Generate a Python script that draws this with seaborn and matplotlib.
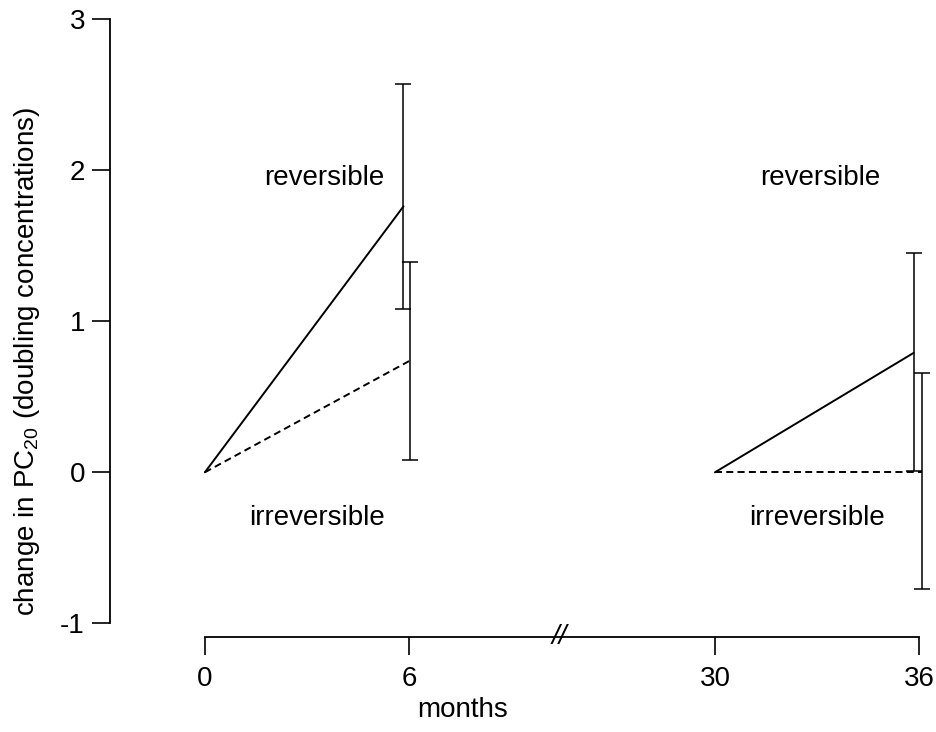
import numpy as np
import pandas as pd
import matplotlib
matplotlib.use("Agg")
import matplotlib.pyplot as plt
import matplotlib.transforms as mtransforms
import seaborn as sns

# ---- data -------------------------------------------------------------
groups = ["reversible", "irreversible"]
periods = ["early", "late"]
start_month = [0, 30]
end_month = [6, 36]
# mean change at end of each period (doubling concentrations)
mean_reversible = [1.76, 0.79]
mean_irreversible = [0.74, 0.0]
# lower / upper ends of the error bars
lo_reversible = [1.08, 0.01]
hi_reversible = [2.57, 1.45]
lo_irreversible = [0.08, -0.77]
hi_irreversible = [1.39, 0.66]

x_ticks = [0, 6, 30, 36]
x_tick_labels = ["0", "6", "30", "36"]
y_ticks = [-1, 0, 1, 2, 3]
y_tick_labels = ["-1", "0", "1", "2", "3"]

# ---- broken time axis: 6..30 months is squeezed into 9 units ----------
GAP = 9.0 / 24.0


def fwd(m):
    m = np.asarray(m, dtype=float)
    return np.where(m <= 6, m, np.where(m >= 30, m - 15.0, 6 + (m - 6) * GAP))


def inv(c):
    c = np.asarray(c, dtype=float)
    return np.where(c <= 6, c, np.where(c >= 15, c + 15.0, 6 + (c - 6) / GAP))


# ---- long-form table for seaborn --------------------------------------
dodge = {"reversible": -0.16, "irreversible": 0.10}
means = {"reversible": mean_reversible, "irreversible": mean_irreversible}
rows = []
for g in groups:
    for i, p in enumerate(periods):
        rows.append(dict(group=g, period=p, month=start_month[i], change=0.0))
        rows.append(dict(group=g, period=p, month=end_month[i] + dodge[g],
                         change=means[g][i]))
df = pd.DataFrame(rows)

# ---- figure -----------------------------------------------------------
sns.set_theme(style="ticks")
plt.rcParams["font.family"] = ["Liberation Sans", "DejaVu Sans"]
plt.rcParams["mathtext.fontset"] = "custom"
plt.rcParams["mathtext.rm"] = "Liberation Sans"
plt.rcParams["text.color"] = "black"
plt.rcParams["axes.labelcolor"] = "black"

W, H = 937, 732
fig = plt.figure(figsize=(W / 100, H / 100), dpi=100)
fig.patch.set_facecolor("white")

left_px, right_px, top_px, bottom_px = 110, 936, 19, 637
ax = fig.add_axes([left_px / W, 1 - bottom_px / H,
                   (right_px - left_px) / W, (bottom_px - top_px) / H])
ax.set_xscale("function", functions=(fwd, inv))

# x limits chosen so that month 0 sits ~95 px right of the y axis
ax.set_xlim(-2.79, 36.5)
ax.set_ylim(-1.09, 3.0)

sns.lineplot(data=df, x="month", y="change", style="group", units="period",
             estimator=None, color="black", linewidth=1.4,
             dashes={"reversible": "", "irreversible": (3.6, 2.2)},
             style_order=groups, legend=False, ax=ax)

# error bars
for g, lo, hi in [("reversible", lo_reversible, hi_reversible),
                  ("irreversible", lo_irreversible, hi_irreversible)]:
    xs = np.array(end_month, dtype=float) + dodge[g]
    m = np.array(means[g])
    yerr = np.vstack([m - np.array(lo), np.array(hi) - m])
    ax.errorbar(xs, m, yerr=yerr, fmt="none", ecolor="black",
                elinewidth=1.1, capsize=6, capthick=1.1)

# region labels
fs = 20
ax.text(3.5, 1.95, "reversible", ha="center", va="center", fontsize=fs)
ax.text(3.3, -0.30, "irreversible", ha="center", va="center", fontsize=fs)
ax.text(33.1, 1.95, "reversible", ha="center", va="center", fontsize=fs)
ax.text(33.0, -0.30, "irreversible", ha="center", va="center", fontsize=fs)

# axes styling
sns.despine(ax=ax)
for s in ("left", "bottom"):
    ax.spines[s].set_linewidth(1.3)
    ax.spines[s].set_color("black")
ax.spines["left"].set_bounds(-1, 3)
ax.spines["bottom"].set_bounds(0, 36)

ax.set_xticks(x_ticks)
ax.set_xticklabels(x_tick_labels)
ax.set_yticks(y_ticks)
ax.set_yticklabels(y_tick_labels)
ax.tick_params(axis="both", direction="out", length=13, width=1.2,
               labelsize=fs, colors="black")
ax.tick_params(axis="x", pad=8)
ax.tick_params(axis="y", pad=5)
ax.minorticks_off()
ax.set_xlabel("")
ax.set_ylabel("")

# break marks on the time axis
trans = mtransforms.blended_transform_factory(ax.transData, ax.transAxes)
ax.text(17.8, 0.0, "//", transform=trans, ha="center", va="center",
        fontsize=20, style="italic", clip_on=False)

fig.text(27 / W, 1 - 362 / H,
         "change in PC$_{20}$ (doubling concentrations)",
         rotation=90, ha="center", va="center", fontsize=20)
fig.text(463 / W, 1 - 710 / H, "months", ha="center", va="center",
         fontsize=fs)

fig.savefig("out.png", dpi=100, facecolor="white")
